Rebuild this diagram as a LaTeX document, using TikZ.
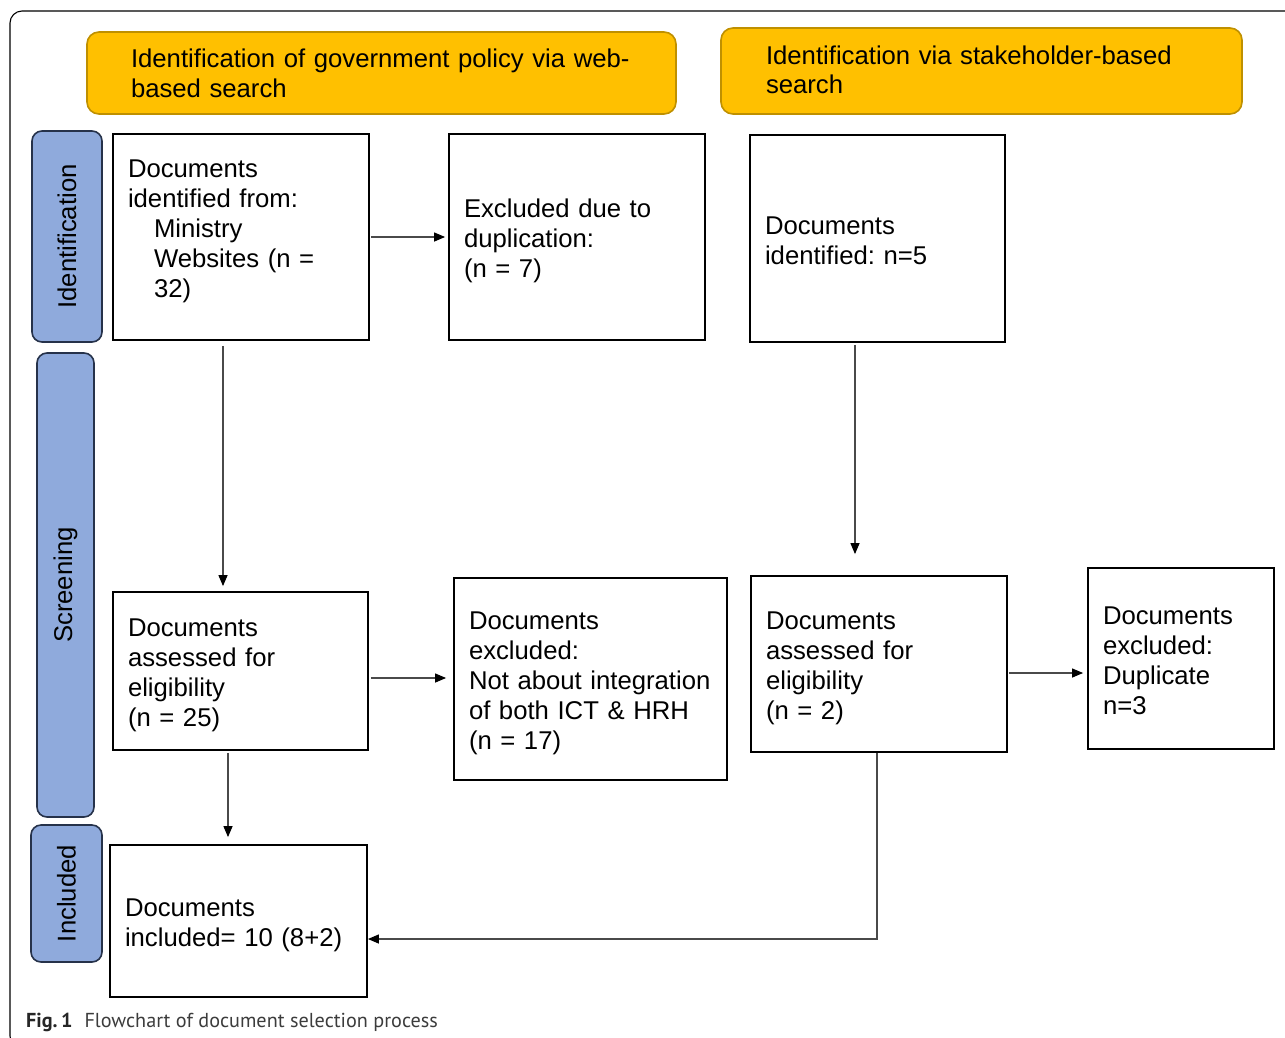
\documentclass[tikz,border=0pt]{standalone}
\usepackage{fontspec}
\setmainfont{Liberation Sans}
\newfontfamily\capfont{PT Sans}
\usetikzlibrary{arrows.meta,calc}
\frenchspacing
\definecolor{hdrfill}{HTML}{FFC000}
\definecolor{hdrdraw}{HTML}{BF9000}
\definecolor{sidefill}{HTML}{8FAADC}
\definecolor{sidedraw}{HTML}{26324A}
\definecolor{arrgray}{HTML}{4A4A4A}
\definecolor{capgray}{HTML}{3C3C3C}
% strut that adds #1 of extra room above the first line
\newcommand\padtop[1]{\rule{0pt}{\dimexpr\fontcharht\font`\d+#1\relax}}
% strut that adds #1 of extra room below the last line
\newcommand\padbot[1]{\rule[-\dimexpr\fontchardp\font`\)+#1\relax]{0pt}{\dimexpr\fontchardp\font`\)+#1\relax}}
\tikzset{
  fs/.style={font={\fontsize{25.7pt}{30pt}\selectfont}},
  stepbox/.style={fs, draw=black, line width=1.8pt, align=left, inner xsep=15pt, inner ysep=0pt},
  hdr/.style={fs, draw=hdrdraw, fill=hdrfill, line width=1.6pt, rounded corners=12pt, align=left, inner ysep=0pt},
  side/.style={fs, draw=sidedraw, fill=sidefill, line width=1.6pt, rounded corners=10pt, rotate=90, inner sep=0pt},
  arr/.style={draw=arrgray, line width=1.2pt, -{Triangle[length=11pt,width=9pt,color=black]}},
}
\begin{document}
\begin{tikzpicture}[x=1pt,y=-1pt]
\useasboundingbox (0,0) rectangle (1285,1037);
% outer frame
\draw[line width=1.1pt, rounded corners=12pt] (1300,11) -- (10,11) -- (10,1048) -- (40,1048);

% headers
\node[hdr, inner xsep=44pt, text width=501pt, minimum height=82pt] (Y1) at (381.5,73)
  {\padtop{2pt}Identification of government policy via web-\\based search};
\node[hdr, inner xsep=45pt, text width=431pt, minimum height=86pt] (Y2) at (981.5,71)
  {Identification via stakeholder-based\\[-1pt]search\padbot{-3pt}};

% side labels
\node[side, minimum width=211pt, minimum height=70pt] (S1) at (67,236.5) {Identification};
\node[side, minimum width=464pt, minimum height=57pt] (S2) at (65.5,585) {Screening};
\node[side, minimum width=137pt, minimum height=71pt] (S3) at (66.5,893.5) {Included};

% boxes
\node[stepbox, text width=226pt, minimum height=206pt] (A) at (241,237)
  {Documents\\identified from:\\\hspace*{26pt}Ministry\\\hspace*{26pt}Websites (n =\\\hspace*{26pt}32)\padbot{12pt}};
\node[stepbox, text width=226pt, minimum height=206pt] (B) at (577,237)
  {\padtop{8pt}Excluded due to\\duplication:\\(n = 7)};
\node[stepbox, text width=225pt, minimum height=207pt] (C) at (877.5,238.5)
  {\padtop{4pt}Documents\\identified: n=5};
\node[stepbox, text width=225pt, minimum height=158pt] (D) at (240.5,671)
  {\padtop{8pt}Documents\\assessed for\\eligibility\\(n = 25)};
\node[stepbox, text width=243pt, minimum height=202pt] (E) at (590.5,679)
  {\padtop{8pt}Documents\\excluded:\\Not about integration\\of both ICT \& HRH\\(n = 17)};
\node[stepbox, text width=226pt, minimum height=176pt] (F) at (879,664)
  {\padtop{8pt}Documents\\assessed for\\eligibility\\(n = 2)};
\node[stepbox, text width=156pt, minimum height=181pt] (G) at (1181,658.5)
  {\padtop{4pt}Documents\\excluded:\\Duplicate\\n=3};
\node[stepbox, text width=227pt, minimum height=152pt] (H) at (238.5,921)
  {\padtop{8pt}Documents\\included= 10 (8+2)};

% connectors
\draw[arr, shorten <=1pt, shorten >=3pt] (A.east) -- (A.east -| B.west);
\draw[arr, shorten <=5pt, shorten >=5pt] ([xshift=-18pt]A.south) -- ([xshift=-18pt]A.south |- D.north);
\draw[arr, shorten <=2pt, shorten >=21pt] ([xshift=-22.5pt]C.south) -- ([xshift=-22.5pt]C.south |- F.north);
\draw[arr, shorten <=2pt, shorten >=7pt] ([yshift=-7pt]D.east) -- ([yshift=-7pt]D.east -| E.west);
\draw[arr, shorten <=2pt, shorten >=7pt] ([xshift=-12.5pt]D.south) -- ([xshift=-12.5pt]D.south |- H.north);
\draw[arr, shorten <=1pt, shorten >=4pt] ([yshift=-9pt]F.east) -- ([yshift=-9pt]F.east -| G.west);
\draw[arr] ([xshift=-2pt]F.south) |- ([yshift=-18pt]H.east);

% caption
\node[anchor=base west, inner sep=0pt, font={\capfont\fontsize{20.2pt}{23pt}\selectfont}, text=capgray] (cap) at (26,1027)
  {\textbf{\color{black!85}Fig.\,1}\hspace{12pt}Flowchart of document selection process};
\end{tikzpicture}
\end{document}
